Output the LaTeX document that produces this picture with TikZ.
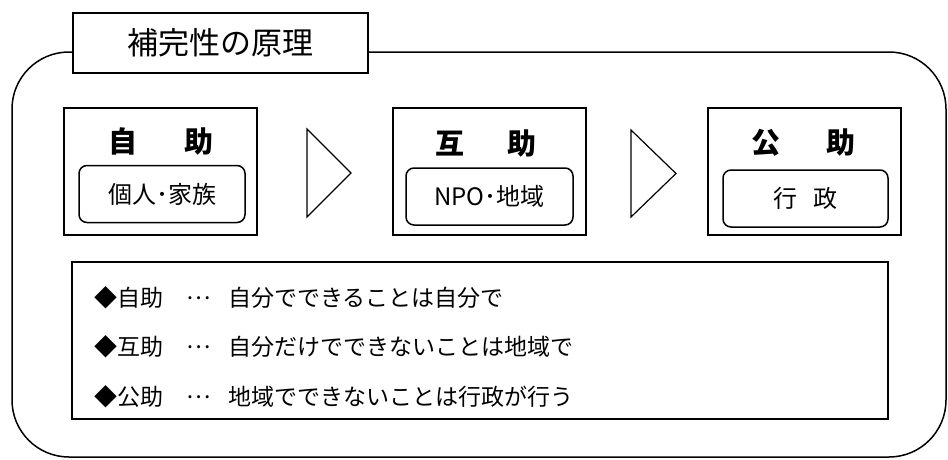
\documentclass[tikz,border=0pt]{standalone}
\usepackage{fontspec}
\newfontfamily\jp{Noto Sans CJK JP}
\begin{document}
\begin{tikzpicture}[x=1pt,y=-1pt,
  frame/.style={line width=1.5pt, rounded corners=57pt},
  titlebox/.style={draw, line width=1.5pt, fill=white, minimum width=295pt, minimum height=60pt, inner sep=0pt, font=\jp\fontsize{31}{31}\selectfont},
  stagebox/.style={draw, line width=2pt, minimum width=193pt, minimum height=127pt, inner sep=0pt},
  innerbox/.style={draw, line width=1.5pt, rounded corners=8pt, minimum width=166pt, minimum height=57pt, inner sep=0pt, font=\jp\fontsize{24}{24}\selectfont},
  heading/.style={inner sep=0pt, font=\jp\bfseries\fontsize{29}{29}\selectfont},
  chevron/.style={line width=1.2pt, line join=miter},
  listbox/.style={draw, line width=2pt, minimum width=816pt, minimum height=157pt, inner sep=0pt},
  listtext/.style={anchor=west, inner sep=0pt, font=\jp\fontsize{23}{23}\selectfont}
]
\useasboundingbox (0,0) rectangle (948,459);

% outer rounded frame
\draw[frame] (73,52) -- (12,52) -- (12,457) -- (946,457) -- (946,52) -- (368,52);

% title
\node[titlebox] (title) at (220.5,43) {補完性の原理};

% stage boxes
\node[stagebox] (s1) at (160.5,171) {};
\node[stagebox] (s2) at (489,171.5) {};
\node[stagebox] (s3) at (804,171.5) {};

\node[heading] (h1) at (161,141) {自\hspace{47pt}助};
\node[heading] (h2) at (486,143) {互\hspace{44pt}助};
\node[heading] (h3) at (803,143) {公\hspace{46pt}助};

\node[innerbox] (i1) at (162,194) {個人･家族};
\node[innerbox, minimum width=167pt] (i2) at (489.5,196.5) {NPO･地域};
\node[innerbox, minimum width=165pt] (i3) at (805.5,198.5) {行\hspace{16pt}政};

% chevrons between stages
\draw[chevron] (307,129) -- (351,173) -- (307,217) -- cycle;
\draw[chevron] (631,130) -- (676,173.5) -- (631,217) -- cycle;

% list box
\node[listbox] (list) at (480,340.5) {};

\node[listtext] (l1a) at (94,298) {◆自助};
\node[listtext] (l1b) at (186,298) {…};
\node[listtext] (l1c) at (228,298) {自分でできることは自分で};

\node[listtext] (l2a) at (94,347) {◆互助};
\node[listtext] (l2b) at (186,347) {…};
\node[listtext] (l2c) at (228,347) {自分だけでできないことは地域で};

\node[listtext] (l3a) at (94,397) {◆公助};
\node[listtext] (l3b) at (186,397) {…};
\node[listtext] (l3c) at (228,397) {地域でできないことは行政が行う};
\end{tikzpicture}
\end{document}
